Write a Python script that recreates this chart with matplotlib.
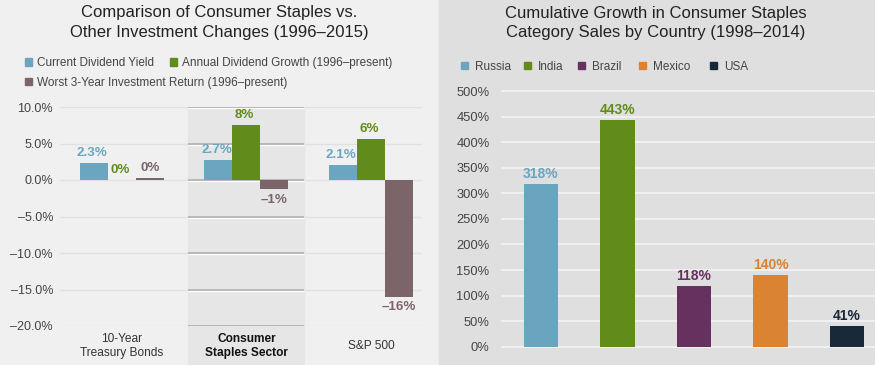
import matplotlib
matplotlib.use("Agg")
import matplotlib.pyplot as plt
from matplotlib.patches import Rectangle
import matplotlib.transforms as mtransforms

plt.rcParams['font.family'] = ['Liberation Sans', 'DejaVu Sans']

# ---------------- data ----------------
left_categories = ["10-Year\nTreasury Bonds", "Consumer\nStaples Sector", "S&P 500"]
left_series = ["Current Dividend Yield", "Annual Dividend Growth (1996–present)",
               "Worst 3-Year Investment Return (1996–present)"]
dividend_yield = [2.3, 2.7, 2.1]
dividend_growth = [0.0, 7.6, 5.6]
worst_return = [0.3, -1.3, -16.0]
left_yticks = [-20, -15, -10, -5, 0, 5, 10]

right_countries = ["Russia", "India", "Brazil", "Mexico", "USA"]
right_growth = [318, 443, 118, 140, 41]
right_yticks = [0, 50, 100, 150, 200, 250, 300, 350, 400, 450, 500]

# ---------------- styles ----------------
W, H = 875, 365
left_colors = ["#6aa6c0", "#618b1a", "#7b6568"]
right_colors = ["#6aa5bf", "#618c1a", "#66305f", "#d98333", "#18293a"]
txt_dark = "#222222"
tick_col = "#444444"

fig = plt.figure(figsize=(W / 100, H / 100), dpi=100)
fig.patch.set_facecolor("#f0f0f0")
fig.patches.append(Rectangle((0, 0), 439 / W, 1, transform=fig.transFigure,
                             color="#f0f0f0", zorder=-10))
fig.patches.append(Rectangle((439 / W, 0), 1 - 439 / W, 1, transform=fig.transFigure,
                             color="#e0dfdf", zorder=-10))


def fx(px):
    return px / W


def fy(py):
    return 1 - py / H


# ---------------- titles ----------------
fig.text(fx(219.5), fy(13), "Comparison of Consumer Staples vs.", ha="center", va="center",
         fontsize=12, color=txt_dark)
fig.text(fx(219.5), fy(32.5), "Other Investment Changes (1996–2015)", ha="center", va="center",
         fontsize=12, color=txt_dark)
fig.text(fx(655.5), fy(13.5), "Cumulative Growth in Consumer Staples", ha="center", va="center",
         fontsize=12, color=txt_dark)
fig.text(fx(655.5), fy(33), "Category Sales by Country (1998–2014)", ha="center", va="center",
         fontsize=12, color=txt_dark)


# ---------------- legends ----------------
def legend_item(x_sq, x_txt, y, color, label):
    fig.patches.append(Rectangle((fx(x_sq), fy(y + 3.5)), 7 / W, 7 / H,
                                 transform=fig.transFigure, color=color))
    fig.text(fx(x_txt), fy(y + 4.3), label, ha="left", va="baseline", fontsize=8.5,
             color=tick_col)


left_leg_pos = [(24.5, 37, 62), (169.5, 182.5, 62), (24.5, 37, 81.5)]
for (xs, xt, yy), c, lab in zip(left_leg_pos, left_colors, left_series):
    legend_item(xs, xt, yy, c, lab)

right_leg_pos = [(461, 475, 65.5), (523.5, 537.5, 65.5), (578, 592, 65.5),
                 (639, 652.5, 65.5), (710, 724.5, 65.5)]
for (xs, xt, yy), c, lab in zip(right_leg_pos, right_colors, right_countries):
    legend_item(xs, xt, yy, c, lab)

# ---------------- left chart ----------------
axL = fig.add_axes([fx(60), 39 / H, 362 / W, 219 / H])
axL.set_facecolor("none")
for s in axL.spines.values():
    s.set_visible(False)

n = len(left_categories)
xs = list(range(n))
bw = 0.225
offsets = [-bw, 0, bw]

axL.set_yticks(left_yticks)
axL.set_yticklabels([f"{v:.1f}%".replace("-", "–") for v in left_yticks])
axL.tick_params(axis="y", length=0, pad=5, labelsize=9, labelcolor=tick_col)
axL.yaxis.grid(True, color="#e1e1e1", linewidth=1, zorder=0.5)
axL.set_axisbelow(True)

# highlighted column
hl_center, hl_half = 1, 0.466
blend = mtransforms.blended_transform_factory(axL.transData, axL.transAxes)
axL.add_patch(Rectangle((hl_center - hl_half, -0.3), 2 * hl_half, 1.3, transform=blend,
                        color="#e6e6e6", zorder=1, clip_on=False))
down1 = mtransforms.offset_copy(axL.transData, fig=fig, x=0, y=-1.2, units="dots")
axL.hlines(left_yticks, hl_center - hl_half, hl_center + hl_half, colors="#ffffff",
           linewidth=1.0, zorder=1.4, transform=down1)
axL.hlines(left_yticks, hl_center - hl_half, hl_center + hl_half, colors="#afafaf",
           linewidth=1.2, zorder=1.5)

series_vals = [dividend_yield, dividend_growth, worst_return]
label_dx = [-2, -2, 0]
for si, (vals, col, off) in enumerate(zip(series_vals, left_colors, offsets)):
    axL.bar([x + off for x in xs], vals, width=bw, color=col, zorder=3)
    for x, v in zip(xs, vals):
        if si == 0:
            txt = f"{v:.1f}%"
        else:
            txt = f"{round(v):d}%".replace("-", "–")
        dy = 10 if v >= 0 else -10.5
        axL.annotate(txt, (x + off, v), xytext=(label_dx[si], dy), textcoords="offset pixels",
                     ha="center", va="center", fontsize=9.6, fontweight="bold", color=col,
                     zorder=4)

axL.set_xticks([])
for i, (x, lab) in enumerate(zip(xs, left_categories)):
    axL.text(x, -0.0913, lab, transform=blend, ha="center", va="center",
             multialignment="center", fontsize=8.6, linespacing=1.2,
             color="#111111" if i == 1 else "#333333",
             fontweight="bold" if i == 1 else "normal", zorder=5, clip_on=False)
axL.set_xlim(-0.498, 2.41)
axL.set_ylim(-20, 10)

# ---------------- right chart ----------------
axR = fig.add_axes([fx(502), (H - 346.7) / H, (W - 502) / W, 255.6 / H])
axR.set_facecolor("none")
for s in axR.spines.values():
    s.set_visible(False)
axR.set_yticks(right_yticks)
axR.set_yticklabels([f"{v}%" for v in right_yticks])
axR.tick_params(axis="y", length=0, pad=9, labelsize=9.3, labelcolor=tick_col)
axR.yaxis.grid(True, color="#f2f2f2", linewidth=1.3, zorder=0.5)
axR.set_axisbelow(True)
rx = list(range(len(right_countries)))
axR.bar(rx, right_growth, width=0.445, color=right_colors, zorder=3)
for x, v, c in zip(rx, right_growth, right_colors):
    axR.annotate(f"{v}%", (x, v), xytext=(0, 10), textcoords="offset pixels",
                 ha="center", va="center", fontsize=10, fontweight="bold", color=c, zorder=4)
axR.set_xticks([])
axR.set_xlim(-0.51, 4.366)
axR.set_ylim(0, 500)
for line in axR.get_ygridlines():
    line.set_clip_on(False)

fig.savefig("out.png", dpi=100, facecolor=fig.get_facecolor())
